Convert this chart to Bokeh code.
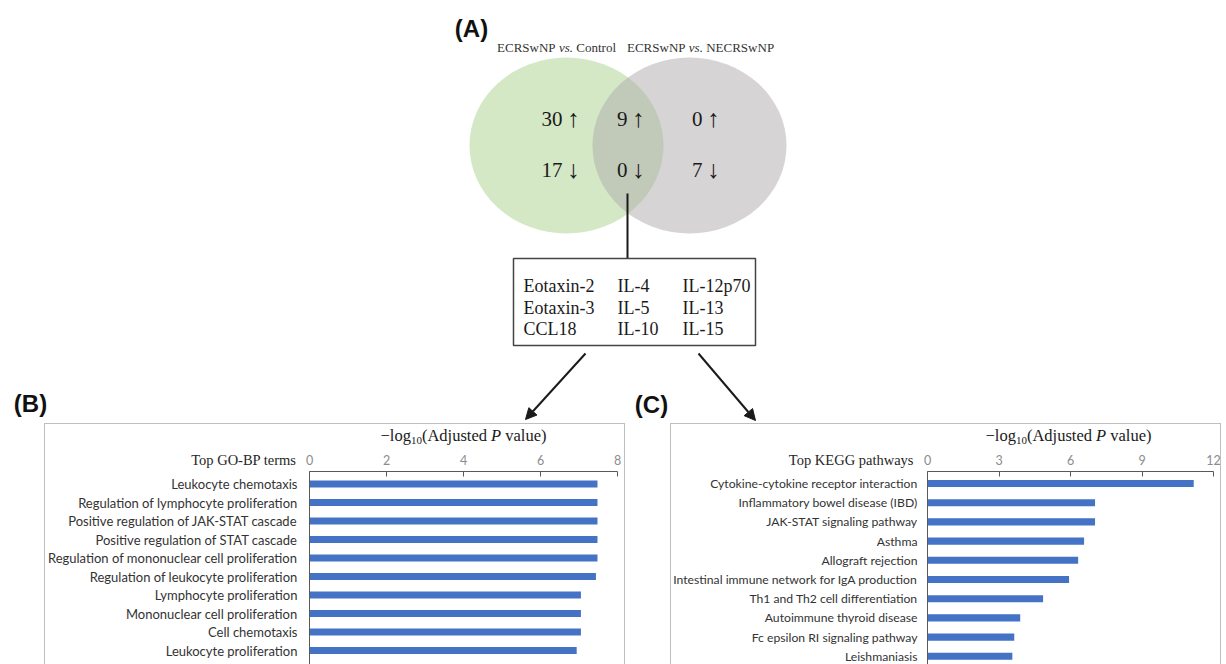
from bokeh.plotting import figure
from bokeh.layouts import column, row
from bokeh.models import Range1d, FixedTicker, Arrow, NormalHead, Spacer
from bokeh.core.properties import value
from bokeh.embed import file_html
from bokeh.resources import INLINE

# ---------------- data ----------------
comparisons = [("ECRSwNP", "Control"), ("ECRSwNP", "NECRSwNP")]
venn_up = [30, 9, 0]      # only left set, shared, only right set
venn_down = [17, 0, 7]
shared_col1 = ["Eotaxin-2", "Eotaxin-3", "CCL18"]
shared_col2 = ["IL-4", "IL-5", "IL-10"]
shared_col3 = ["IL-12p70", "IL-13", "IL-15"]

go_terms = ["Leukocyte chemotaxis", "Regulation of lymphocyte proliferation",
            "Positive regulation of JAK-STAT cascade", "Positive regulation of STAT cascade",
            "Regulation of mononuclear cell proliferation", "Regulation of leukocyte proliferation",
            "Lymphocyte proliferation", "Mononuclear cell proliferation", "Cell chemotaxis",
            "Leukocyte proliferation"]
go_values = [7.48, 7.48, 7.48, 7.48, 7.48, 7.44, 7.05, 7.05, 7.05, 6.94]
go_ticks = [0, 2, 4, 6, 8]

kegg_terms = ["Cytokine-cytokine receptor interaction", "Inflammatory bowel disease (IBD)",
              "JAK-STAT signaling pathway", "Asthma", "Allograft rejection",
              "Intestinal immune network for IgA production", "Th1 and Th2 cell differentiation",
              "Autoimmune thyroid disease", "Fc epsilon RI signaling pathway", "Leishmaniasis"]
kegg_values = [11.17, 7.03, 7.03, 6.57, 6.32, 5.94, 4.85, 3.89, 3.64, 3.56]
kegg_ticks = [0, 3, 6, 9, 12]

panel_headers = ["Top GO-BP terms", "Top KEGG pathways"]

# ---------------- styles ----------------
SERIF = "Liberation Serif"
SANS = "Liberation Sans"
CAL = "Lato"
INK = "#1a1a1a"
BAR = "#4472C4"
AXIS = "#595959"
FRAME = "#bfbfbf"
W, H = 1226, 664
ROW_TOP = 423          # top of the bar-chart boxes
FRAME_TOP = 471        # horizontal value axis of the bar charts

# ---------------- panel A + all free texts (top layer) ----------------
pa = figure(width=W, height=FRAME_TOP, x_range=Range1d(0, W), y_range=Range1d(FRAME_TOP, 0),
            x_axis_location=None, y_axis_location=None, toolbar_location=None,
            output_backend="svg", min_border=0)
pa.grid.visible = False
pa.outline_line_color = None
pa.background_fill_color = None
pa.border_fill_color = None

pa.ellipse(x=[566], y=[145], width=194, height=176, width_units="screen", height_units="screen",
           fill_color="#A9D18E", fill_alpha=0.5, line_color=None)
pa.ellipse(x=[689], y=[145], width=194, height=176, width_units="screen", height_units="screen",
           fill_color="#AEAAAA", fill_alpha=0.5, line_color=None)

num_right = [562, 627, 702]
for counts, arrow_ch, ry in [(venn_up, "\u2191", 118), (venn_down, "\u2193", 169)]:
    pa.text(x=num_right, y=[ry] * 3, text=[str(n) for n in counts],
            text_font=value(SERIF), text_font_size="21px", text_align="right",
            text_baseline="middle", text_color=INK)
    pa.text(x=[v + 4.5 for v in num_right], y=[ry] * 3, text=[arrow_ch] * 3,
            text_font=value(SERIF), text_font_size="25px", text_align="left",
            text_baseline="middle", text_color=INK)

for vs_x, (a, b) in zip([558.4, 688.3], comparisons):
    kw = dict(text_font=value(SERIF), text_font_size="13px", text_baseline="middle", text_color="#333333")
    pa.text(x=[vs_x - 3.3], y=[47], text=[a], text_align="right", **kw)
    pa.text(x=[vs_x], y=[47], text=["vs."], text_align="left", text_font_style="italic", **kw)
    pa.text(x=[vs_x + 17.4], y=[47], text=[b], text_align="left", **kw)

for lx, ly, lab in [(471, 28, "(A)"), (30, 403, "(B)"), (651, 404, "(C)")]:
    pa.text(x=[lx], y=[ly], text=[lab], text_font=value(SANS), text_font_style="bold",
            text_font_size="24px", text_align="center", text_baseline="middle", text_color="#111111")

# connector and box of shared cytokines
pa.segment(x0=[627], y0=[193], x1=[627], y1=[258], line_color=INK, line_width=2)
pa.quad(left=[513], right=[755], top=[258], bottom=[345], fill_color=None,
        line_color="#444444", line_width=1.5)
row_y = [285, 307, 328]
for cx, col in zip([523, 617, 682], [shared_col1, shared_col2, shared_col3]):
    pa.text(x=[cx] * len(col), y=row_y[:len(col)], text=col, text_font=value(SERIF),
            text_font_size="18px", text_align="left", text_baseline="middle", text_color=INK)

for (x0, y0, x1, y1) in [(585, 353, 525, 419), (698, 353, 755, 420)]:
    pa.add_layout(Arrow(end=NormalHead(size=11, fill_color=INK, line_color=INK, line_width=1),
                        x_start=x0, y_start=y0, x_end=x1, y_end=y1,
                        line_color=INK, line_width=2))

# headers and axis titles of the two bar charts (rich text pieces)
F, FS = 16.5, 11
title_pieces = [("\u2212log", 0.0, F, "normal", 0),
                ("10", 30.4, FS, "normal", 4.5),
                ("(Adjusted", 41.4, F, "normal", 0),
                ("P", 110.6, F, "italic", 0),
                ("value)", 124.8, F, "normal", 0)]
for header, hx, tcx in zip(panel_headers, [296, 913], [465, 1070]):
    pa.text(x=[hx], y=[459], text=[header], text_font=value(SERIF), text_font_size="14.5px",
            text_align="right", text_baseline="middle", text_color="#262626")
    start = tcx - 85
    for txt, off, size, style, dyo in title_pieces:
        pa.text(x=[start + off], y=[435 + dyo], text=[txt], text_font=value(SERIF),
                text_font_size=f"{size}px", text_font_style=style, text_align="left",
                text_baseline="middle", text_color=INK)


# ---------------- panels B and C ----------------
def bar_panel(terms, vals, ticks, left_px, width, frame_left, frame_right, c0, sp,
              label_size, standoff):
    ph = H - ROW_TOP
    i_top = (FRAME_TOP - c0) / sp
    i_bot = (H - c0) / sp
    xmax = ticks[-1]
    p = figure(width=width, height=ph, x_range=Range1d(0, xmax), y_range=Range1d(i_bot, i_top),
               x_axis_location="above", y_axis_location="left", toolbar_location=None,
               output_backend="svg",
               min_border_left=frame_left - left_px, min_border_right=left_px + width - frame_right,
               min_border_top=FRAME_TOP - ROW_TOP, min_border_bottom=0)
    p.grid.visible = False
    p.outline_line_color = None
    p.background_fill_color = None
    p.border_fill_color = None
    p.styles = {"box-shadow": f"inset 1px 1px 0 0 {FRAME}, inset -1px 0 0 0 {FRAME}"}

    idx = list(range(len(terms)))
    p.hbar(y=idx, left=0, right=vals, height=0.37, fill_color=BAR, line_color=None)

    xa = p.xaxis[0]
    xa.ticker = FixedTicker(ticks=ticks)
    xa.axis_line_color = AXIS
    xa.major_tick_line_color = AXIS
    xa.major_tick_in = 5
    xa.major_tick_out = 0
    xa.minor_tick_in = 0
    xa.minor_tick_out = 0
    xa.major_label_standoff = 7
    xa.major_label_text_font = CAL
    xa.major_label_text_font_size = "12.5px"
    xa.major_label_text_color = "#8c8c8c"

    ya = p.yaxis[0]
    ya.ticker = FixedTicker(ticks=idx)
    ya.major_label_overrides = {i: t for i, t in enumerate(terms)}
    ya.axis_line_color = AXIS
    ya.major_tick_in = 0
    ya.major_tick_out = 0
    ya.minor_tick_in = 0
    ya.minor_tick_out = 0
    ya.major_label_standoff = standoff
    ya.major_label_text_font = CAL
    ya.major_label_text_font_size = label_size
    ya.major_label_text_color = "#333333"
    return p


pb = bar_panel(go_terms, go_values, go_ticks,
               left_px=44, width=581, frame_left=309, frame_right=617, c0=483.5, sp=18.5,
               label_size="13px", standoff=12)
pc = bar_panel(kegg_terms, kegg_values, kegg_ticks,
               left_px=670, width=551, frame_left=926, frame_right=1213, c0=483, sp=19.2,
               label_size="12.2px", standoff=10)

bottom = row(Spacer(width=44, height=H - ROW_TOP), pb, Spacer(width=45, height=H - ROW_TOP), pc,
             spacing=0, styles={"margin-top": f"-{FRAME_TOP - ROW_TOP}px"})
layout = column(pa, bottom, spacing=0)

open("out.html", "w").write(file_html(layout, INLINE))
